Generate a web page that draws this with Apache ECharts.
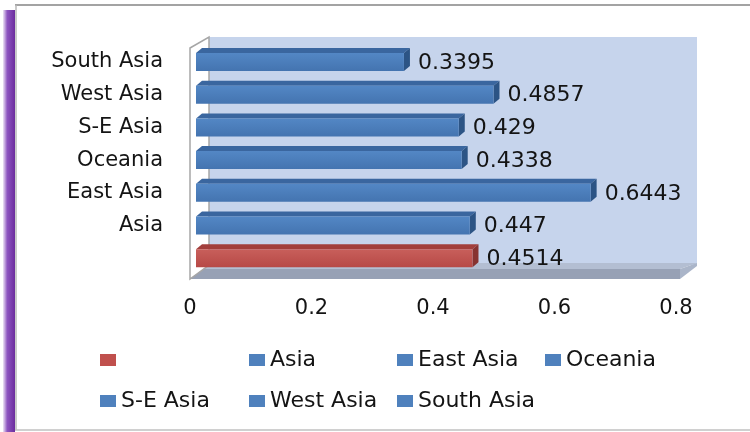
<!DOCTYPE html>
<html>
<head>
<meta charset="utf-8">
<script src="https://cdn.jsdelivr.net/npm/echarts@6/dist/echarts.min.js"></script>
<style>
  html, body { margin: 0; padding: 0; background: #ffffff; }
  #chart { width: 750px; height: 432px; }
</style>
</head>
<body>
<div id="chart"></div>
<script>
// Regions, bottom to top (the first row is the unlabelled overall bar)
const categories = ['', 'Asia', 'East Asia', 'Oceania', 'S-E Asia', 'West Asia', 'South Asia'];
const values = [0.4514, 0.447, 0.6443, 0.4338, 0.429, 0.4857, 0.3395];
const xTicks = [0, 0.2, 0.4, 0.6, 0.8];
const legendNames = [' ', 'Asia', 'East Asia', 'Oceania', 'S-E Asia', 'West Asia', 'South Asia'];

const FONT = '"DejaVu Sans", sans-serif';
const TEXT = '#141414';

const redShade = { front: ['#c85f5b', '#b74946'], top: '#a23f3c', side: '#873331', legend: '#c0504d' };
const blueShade = { front: ['#5387c5', '#4474b0'], top: '#3a669f', side: '#2c5485', legend: '#4f81bd' };
const shades = categories.map((c, i) => (i === 0 ? redShade : blueShade));

// 3D-looking horizontal bar: front face, top face, right side face and value text
function renderBar(params, api) {
  const v = api.value(0);
  const c = api.value(1);
  const base = api.coord([0, c]);
  const end = api.coord([v, c]);
  const band = api.size([0, 1])[1];
  const h = band * 0.55;
  const y0 = base[1] - h / 2;
  const x0 = base[0];
  const x1 = end[0];
  const dx = 6, dy = 5;
  const s = shades[params.seriesIndex];
  return {
    type: 'group',
    children: [
      { type: 'polygon', shape: { points: [[x0, y0], [x1, y0], [x1 + dx, y0 - dy], [x0 + dx, y0 - dy]] },
        style: { fill: s.top } },
      { type: 'polygon', shape: { points: [[x1, y0], [x1 + dx, y0 - dy], [x1 + dx, y0 + h - dy], [x1, y0 + h]] },
        style: { fill: s.side } },
      { type: 'rect', shape: { x: x0, y: y0, width: x1 - x0, height: h },
        style: { fill: new echarts.graphic.LinearGradient(0, 0, 0, 1, [
          { offset: 0, color: s.front[0] }, { offset: 1, color: s.front[1] }]) } },
      { type: 'text', x: x1 + dx + 8, y: base[1] + 1,
        style: { text: String(v), fill: TEXT, font: '22px ' + FONT, align: 'left', verticalAlign: 'middle' } }
    ]
  };
}

const series = categories.map((cat, i) => ({
  type: 'custom',
  name: legendNames[i],
  xAxisIndex: 0,
  yAxisIndex: 0,
  renderItem: renderBar,
  itemStyle: { color: shades[i].legend },
  encode: { x: 0, y: 1 },
  data: [[values[i], i]],
  z: 5
}));

// Legend laid out in two rows of fixed-width columns
const legendCols = [100, 249, 397, 545];
const legendRows = [354, 395];
const legends = legendNames.map((name, i) => ({
  data: [name],
  left: legendCols[i % 4],
  top: legendRows[Math.floor(i / 4)] - 5,
  padding: 0,
  itemWidth: 16,
  itemHeight: 12,
  itemGap: 0,
  icon: 'rect',
  selectedMode: false,
  textStyle: { fontSize: 22, fontFamily: FONT, color: TEXT }
}));

// Walls, floor and page frame
const graphics = [
  { type: 'rect', z: -10, shape: { x: 3, y: 10, width: 12, height: 422 },
    style: { fill: new echarts.graphic.LinearGradient(0, 0, 1, 0, [
      { offset: 0, color: '#eee6f5' }, { offset: 0.35, color: '#8d55c0' }, { offset: 1, color: '#6c2c9e' }]) } },
  { type: 'line', z: -9, shape: { x1: 15, y1: 5, x2: 750, y2: 5 }, style: { stroke: '#a3a3a3', lineWidth: 2 } },
  { type: 'line', z: -9, shape: { x1: 16, y1: 5, x2: 16, y2: 430 }, style: { stroke: '#b8b8b8', lineWidth: 1.5 } },
  { type: 'line', z: -9, shape: { x1: 15, y1: 430, x2: 750, y2: 430 }, style: { stroke: '#c0c0c0', lineWidth: 1.5 } },
  { type: 'rect', z: -8, shape: { x: 209, y: 37, width: 488, height: 228 }, style: { fill: '#c6d4ec' } },
  { type: 'polygon', z: -7, shape: { points: [[209, 263], [697, 263], [680, 269], [190, 269]] }, style: { fill: '#b3bed2' } },
  { type: 'rect', z: -7, shape: { x: 190, y: 269, width: 490, height: 10 }, style: { fill: '#97a1b5' } },
  { type: 'polygon', z: -7, shape: { points: [[680, 269], [697, 263], [697, 266], [680, 279]] }, style: { fill: '#aab5c9' } },
  { type: 'polygon', z: -6, shape: { points: [[190, 48], [209, 37], [209, 265], [190, 279]] },
    style: { fill: '#ffffff', stroke: '#a6a6a6', lineWidth: 1.5 } }
];

const chart = echarts.init(document.getElementById('chart'), null, { renderer: 'canvas' });
chart.setOption({
  backgroundColor: '#ffffff',
  animation: false,
  graphic: graphics,
  legend: legends,
  grid: [
    { left: 196, top: 45.6, width: 490, height: 229 },
    { left: 190, top: 45.6, width: 486, height: 229 }
  ],
  xAxis: [
    { gridIndex: 0, type: 'value', min: 0, max: 0.8, show: false },
    { gridIndex: 1, type: 'value', min: 0, max: 0.8, interval: 0.2,
      axisLine: { show: false }, axisTick: { show: false }, splitLine: { show: false },
      axisLabel: { margin: 23, fontSize: 21, fontFamily: FONT, color: TEXT,
        formatter: (v) => {
          const t = xTicks.find((x) => Math.abs(x - v) < 1e-9);
          return t === undefined ? '' : String(t);
        } } }
  ],
  yAxis: [
    { gridIndex: 0, type: 'category', data: categories,
      axisLine: { show: false }, axisTick: { show: false }, splitLine: { show: false },
      axisLabel: { margin: 33, fontSize: 21, fontFamily: FONT, color: TEXT, padding: [6, 0, 0, 0] } },
    { gridIndex: 1, type: 'value', show: false }
  ],
  series: series
});
</script>
</body>
</html>
